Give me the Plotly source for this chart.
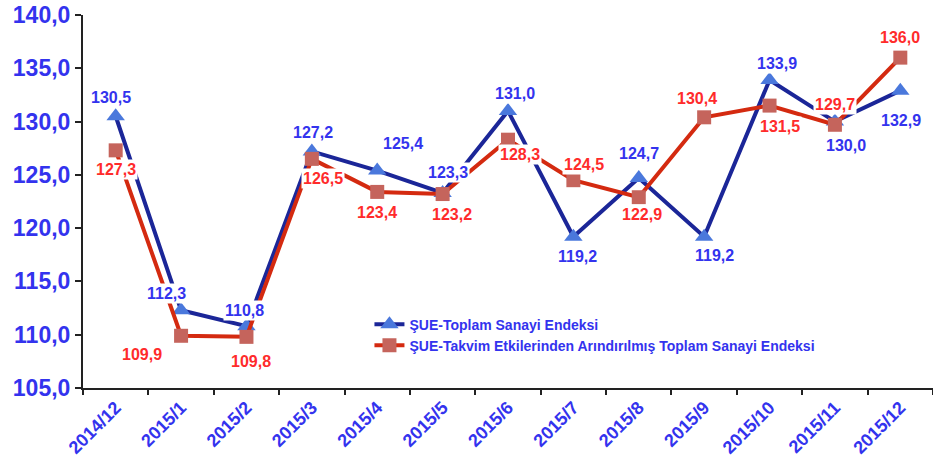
import plotly.graph_objects as go

categories = ["2014/12", "2015/1", "2015/2", "2015/3", "2015/4", "2015/5", "2015/6",
              "2015/7", "2015/8", "2015/9", "2015/10", "2015/11", "2015/12"]
toplam = [130.5, 112.3, 110.8, 127.2, 125.4, 123.3, 131.0, 119.2, 124.7, 119.2, 133.9, 130.0, 132.9]
takvim = [127.3, 109.9, 109.8, 126.5, 123.4, 123.2, 128.3, 124.5, 122.9, 130.4, 131.5, 129.7, 136.0]
y_ticks = [105, 110, 115, 120, 125, 130, 135, 140]

name_toplam = "ŞUE-Toplam Sanayi Endeksi"
name_takvim = "ŞUE-Takvim Etkilerinden Arındırılmış Toplam Sanayi Endeksi"

# label offsets (pixels) for each series: (xshift, yshift)
toplam_shift = [(-5, 19), (-15, 17), (-2, 16), (1, 19), (26, 27), (5, 20), (7, 17),
                (4, -20), (0, 25), (10, -19), (7, 17), (11, -24), (1, -30)]
takvim_shift = [(0, -19), (-39, -19), (5, -25), (11, -20), (0, -21), (9, -20), (12, -15),
                (11, 16), (3, -17), (-7, 19), (10, -21), (0, 20), (0, 20)]

BLUE_LINE = "#1b2698"
RED_LINE = "#d42a10"
TRI = "#4a78dc"
SQ = "#c5645c"
BLUE_TXT = "#3333ee"
RED_TXT = "#ff2b2b"
FONT = "Liberation Sans, Arial, sans-serif"

fig = go.Figure()
fig.add_trace(go.Scatter(
    x=categories, y=toplam, mode="lines+markers", name=name_toplam,
    line=dict(color=BLUE_LINE, width=4),
    marker=dict(symbol="triangle-up", size=16, color=TRI),
))
fig.add_trace(go.Scatter(
    x=categories, y=takvim, mode="lines+markers", name=name_takvim,
    line=dict(color=RED_LINE, width=4),
    marker=dict(symbol="square", size=14, color=SQ),
))

annotations = []
for vals, shifts, col in ((toplam, toplam_shift, BLUE_TXT), (takvim, takvim_shift, RED_TXT)):
    for c, v, (dx, dy) in zip(categories, vals, shifts):
        annotations.append(dict(
            x=c, y=v, xref="x", yref="y", text=f"{v:.1f}".replace(".", ","),
            showarrow=False, xshift=dx, yshift=dy, bgcolor="white",
            font=dict(family=FONT, size=16, color=col, weight="bold"),
            borderpad=1,
        ))

fig.update_layout(
    width=933, height=464,
    margin=dict(l=83, r=0, t=15, b=76),
    paper_bgcolor="white", plot_bgcolor="white",
    font=dict(family=FONT),
    annotations=annotations,
    showlegend=True,
    legend=dict(
        x=0.337, y=0.213, xanchor="left", yanchor="top",
        bgcolor="rgba(0,0,0,0)",
        font=dict(family=FONT, size=14, color=BLUE_TXT, weight="bold"),
        tracegroupgap=0, itemwidth=30,
    ),
    xaxis=dict(
        type="category", range=[-0.5, len(categories) - 0.5],
        tickson="boundaries", ticks="outside", ticklen=5,
        tickwidth=2, tickcolor="#222", showline=True, linecolor="#222", linewidth=2,
        showgrid=False, tickangle=-45, automargin=False,
        tickfont=dict(family=FONT, size=18, color=BLUE_TXT, weight="bold"),
        zeroline=False,
    ),
    yaxis=dict(
        range=[105, 140], tickvals=y_ticks, tickformat=".1f",
        ticks="outside", ticklen=6, tickwidth=2, tickcolor="#222", automargin=False,
        showline=True, linecolor="#222", linewidth=2, showgrid=False, zeroline=False,
        tickfont=dict(family=FONT, size=23, color=BLUE_TXT, weight="bold"),
    ),
    separators=",.",
)

fig.write_html("out.html", config={"displayModeBar": False},
               post_script="document.body.style.margin='0';")
